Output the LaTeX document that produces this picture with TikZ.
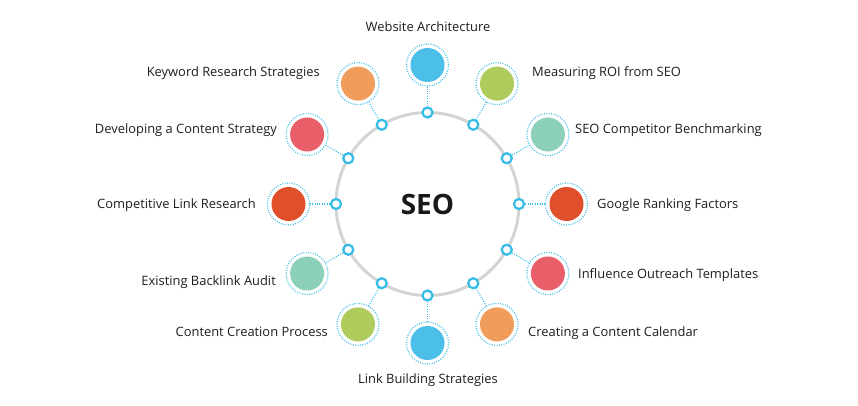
\documentclass[tikz,border=0pt]{standalone}
\usepackage{fontspec}
\setmainfont{Open Sans}
\usetikzlibrary{calc}
\definecolor{cyanc}{HTML}{35BCE6}
\definecolor{ringgray}{HTML}{D4D4D4}
\definecolor{cblue}{HTML}{4CBFE9}
\definecolor{cgreen}{HTML}{AFCB5C}
\definecolor{cteal}{HTML}{8DD0BA}
\definecolor{cred}{HTML}{DF4F2B}
\definecolor{cpink}{HTML}{E85F69}
\definecolor{corange}{HTML}{F09D5C}
\tikzset{
  x=1pt,y=1pt,
  hub/.style={circle,draw=ringgray,line width=3pt,minimum size=183pt,inner sep=0pt,font=\bfseries\fontsize{28}{30}\selectfont,text=black!90},
  ringdot/.style={circle,draw=cyanc,fill=white,line width=2.2pt,minimum size=10pt,inner sep=0pt},
  halo/.style={circle,draw=cyanc,line width=1.2pt,dash pattern=on 0.9pt off 1.5pt,minimum size=42pt,inner sep=0pt},
  blob/.style={circle,fill=#1,minimum size=34pt,inner sep=0pt},
  link/.style={draw=cyanc,line width=1.2pt,dash pattern=on 0.9pt off 1.5pt},
  lbl/.style={font=\fontsize{12.9}{15}\selectfont,text=black!88,inner sep=0pt}
}
\begin{document}
\begin{tikzpicture}
\useasboundingbox (0,0) rectangle (858,405);
\fill[white] (0,0) rectangle (858,405);
\coordinate (c) at (427.5,201);
\node[hub] (hub) at (c) {SEO};
\foreach \a/\col/\n in {90/cblue/1,60/cgreen/2,30/cteal/3,0/cred/4,-30/cpink/5,-60/corange/6,-90/cblue/7,-120/cgreen/8,-150/cteal/9,180/cred/10,150/cpink/11,120/corange/12}{
  \node[ringdot] (r\n) at ($(c)+(\a:91.5)$) {};
  \node[blob=\col] (b\n) at ($(c)+(\a:139)$) {};
  \node[halo] (h\n) at (b\n) {};
  \path[link] (r\n) -- (h\n);
}
\node[lbl,anchor=base] (t1) at (428,373) {Website Architecture};
\node[lbl,anchor=base west] (t2) at (532,328) {Measuring ROI from SEO};
\node[lbl,anchor=base west] (t3) at (575,272) {SEO Competitor Benchmarking};
\node[lbl,anchor=base west] (t4) at (597,197) {Google Ranking Factors};
\node[lbl,anchor=base west] (t5) at (578,127) {Influence Outreach Templates};
\node[lbl,anchor=base west] (t6) at (528,69) {Creating a Content Calendar};
\node[lbl,anchor=base] (t7) at (428,22) {Link Building Strategies};
\node[lbl,anchor=base east] (t8) at (328,69) {Content Creation Process};
\node[lbl,anchor=base east] (t9) at (276,120) {Existing Backlink Audit};
\node[lbl,anchor=base east] (t10) at (256,197) {Competitive Link Research};
\node[lbl,anchor=base east] (t11) at (277,272) {Developing a Content Strategy};
\node[lbl,anchor=base east] (t12) at (320,328) {Keyword Research Strategies};
\end{tikzpicture}
\end{document}
